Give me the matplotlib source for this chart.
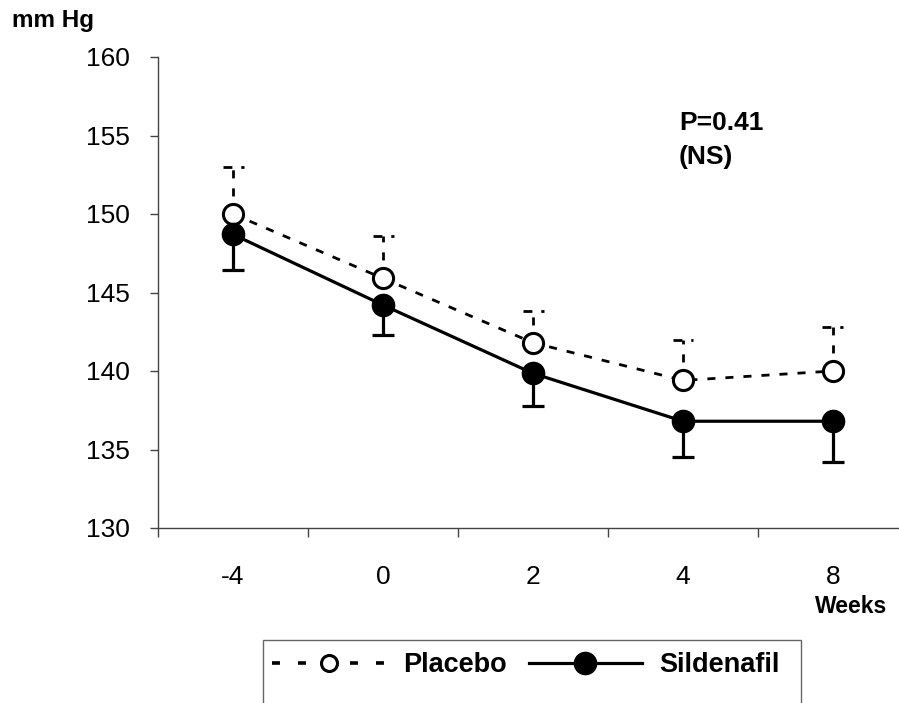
import matplotlib
matplotlib.use("Agg")
import matplotlib.pyplot as plt
from matplotlib.lines import Line2D
from matplotlib.patches import Rectangle
from matplotlib.ticker import FixedLocator

plt.rcParams['font.family'] = ['Liberation Sans', 'DejaVu Sans']

weeks = ['-4', '0', '2', '4', '8']
placebo = [150.0, 145.9, 141.8, 139.4, 140.0]
placebo_err = [3.0, 2.7, 2.0, 2.6, 2.8]
sildenafil = [148.7, 144.2, 139.85, 136.8, 136.8]
sildenafil_err = [2.25, 1.9, 2.05, 2.25, 2.6]

W, H = 899, 703
fig = plt.figure(figsize=(W / 100, H / 100), dpi=100)
ax = fig.add_axes([158 / W, 1 - 528 / H, (908 - 158) / W, (528 - 57) / H])

x = list(range(len(weeks)))
dash = (0, (2.9, 3.6))
cap = 0.07
lw_d = 2.0
lw_s = 2.3

# placebo: dashed line, open circles, upward dashed error bars
tops = [p + e for p, e in zip(placebo, placebo_err)]
ax.vlines(x, placebo, tops, colors='black', linestyles=[dash],
          linewidth=lw_d, zorder=2)
ax.hlines(tops, [i - cap for i in x], [i + cap for i in x], colors='black',
          linestyles=[(0, (3.2, 3.2))], linewidth=lw_d, zorder=2)
ax.plot(x, placebo, color='black', linestyle=dash, linewidth=lw_d,
        marker='o', markersize=14.5, markerfacecolor='white',
        markeredgewidth=2.2, zorder=3)

# sildenafil: solid line, filled circles, downward error bars
ax.errorbar(x, sildenafil, yerr=[sildenafil_err, [0] * len(x)], fmt='none',
            ecolor='black', elinewidth=lw_s, capsize=7.6, capthick=lw_s, zorder=4)
ax.plot(x, sildenafil, color='black', linewidth=lw_s, marker='o',
        markersize=16, markerfacecolor='black', zorder=5)

ax.set_xlim(-0.5, 4.5)
ax.set_ylim(130, 160)
ax.set_yticks([130, 135, 140, 145, 150, 155, 160])
ax.xaxis.set_major_locator(FixedLocator([-0.5, 0.5, 1.5, 2.5, 3.5]))
ax.xaxis.set_minor_locator(FixedLocator(x))
ax.set_xticklabels([], minor=False)
ax.set_xticklabels(weeks, minor=True)
ax.tick_params(axis='x', which='major', length=6.5, width=1, color='#444444')
ax.tick_params(axis='x', which='minor', length=0, pad=27, labelsize=19)
ax.tick_params(axis='y', length=6, width=1, color='#444444', pad=14, labelsize=19)

for s in ['top', 'right']:
    ax.spines[s].set_visible(False)
for s in ['left', 'bottom']:
    ax.spines[s].set_color('#444444')
    ax.spines[s].set_linewidth(1)

fig.text(12 / W, 1 - 27 / H, 'mm Hg', fontsize=17.5, fontweight='bold', va='baseline')
fig.text(815 / W, 1 - 613 / H, 'Weeks', fontsize=16.5, fontweight='bold',
         va='baseline')
fig.text(679 / W, 1 - 130 / H, 'P=0.41', fontsize=19, fontweight='bold',
         va='baseline')
fig.text(679 / W, 1 - 164 / H, '(NS)', fontsize=19, fontweight='bold',
         va='baseline')

# legend box runs off the bottom edge, as in the original
fig.patches.append(Rectangle((263 / W, -0.02), (801 - 263) / W, (0.02 + 1 - 640 / H),
                             transform=fig.transFigure, fill=False,
                             edgecolor='#666666', linewidth=1))
handles = [
    Line2D([], [], color='black', linestyle=(0, (2.2, 5.0)), linewidth=2.6,
           marker='o', markersize=11.5, markerfacecolor='white',
           markeredgewidth=2.2),
    Line2D([], [], color='black', linewidth=lw_s, marker='o', markersize=16,
           markerfacecolor='black'),
]
fig.legend(handles, ['Placebo', 'Sildenafil'], ncol=2,
           loc='center left', bbox_to_anchor=(263 / W, 1 - 665 / H),
           frameon=False, prop={'size': 19.5, 'weight': 'bold'},
           handlelength=4.2, handletextpad=0.63, columnspacing=0.8,
           borderpad=0.35, borderaxespad=0)

fig.savefig('out.png', dpi=100)
